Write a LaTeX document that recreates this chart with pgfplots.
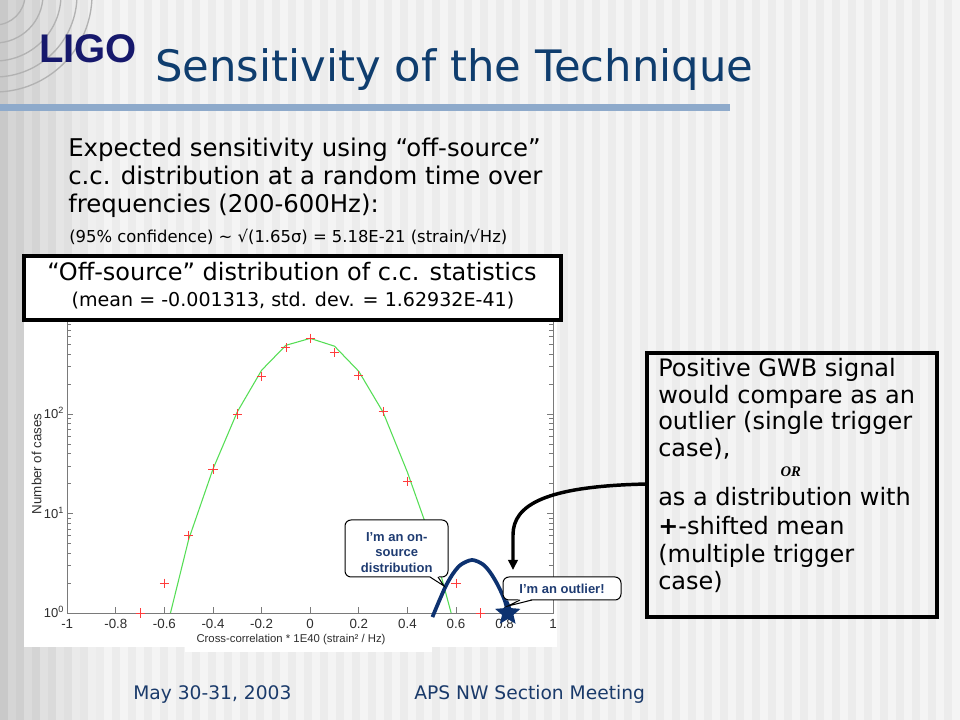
\documentclass[border=0pt]{standalone}
\usepackage{pgfplots}
\pgfplotsset{compat=1.18}
\usepackage{fontspec}
\setmainfont{DejaVu Sans}
\newfontfamily\arialf{Liberation Sans}
\newfontfamily\serf{Liberation Serif}
\usetikzlibrary{arrows.meta}

\definecolor{navytitle}{HTML}{0F3D6E}
\definecolor{ligoblue}{HTML}{16186C}
\definecolor{barblue}{HTML}{8EAACB}
\definecolor{axgray}{HTML}{7A7A7A}
\definecolor{ticktext}{HTML}{2E2E2E}
\definecolor{fitgreen}{RGB}{85,222,85}
\definecolor{ptred}{RGB}{255,60,60}
\definecolor{arcnavy}{HTML}{0D3270}
\definecolor{callblue}{HTML}{1F3C72}
\definecolor{footblue}{HTML}{1A3A6A}

% filled five-pointed star
\pgfdeclareplotmark{fstar}{%
  \pgfpathmoveto{\pgfpointpolar{90}{\pgfplotmarksize}}%
  \pgfpathlineto{\pgfpointpolar{126}{0.45*\pgfplotmarksize}}%
  \pgfpathlineto{\pgfpointpolar{162}{\pgfplotmarksize}}%
  \pgfpathlineto{\pgfpointpolar{198}{0.45*\pgfplotmarksize}}%
  \pgfpathlineto{\pgfpointpolar{234}{\pgfplotmarksize}}%
  \pgfpathlineto{\pgfpointpolar{270}{0.45*\pgfplotmarksize}}%
  \pgfpathlineto{\pgfpointpolar{306}{\pgfplotmarksize}}%
  \pgfpathlineto{\pgfpointpolar{342}{0.45*\pgfplotmarksize}}%
  \pgfpathlineto{\pgfpointpolar{18}{\pgfplotmarksize}}%
  \pgfpathlineto{\pgfpointpolar{54}{0.45*\pgfplotmarksize}}%
  \pgfpathclose\pgfusepathqfill}

\begin{document}
\begin{tikzpicture}
\useasboundingbox (0,0) rectangle (720pt,540pt);

% slide background, pixel coordinates (y down)
\begin{scope}[x=0.75pt,y=-0.75pt,shift={(0pt,540pt)}]
  \foreach \k in {0,...,59}{
    \pgfmathsetmacro\dk{7.5+max(0,6-\k)*2.3}
    \pgfmathsetmacro\lk{4.3+max(0,6-\k)*2.0}
    \fill[black!\dk] (16*\k,0) rectangle (16*\k+8,720);
    \fill[black!\lk] (16*\k+8,0) rectangle (16*\k+16,720);
  }
  \foreach \r in {30,48,66,82,97}{
    \draw[black!30, line width=1pt] (-5,-5) ++(0:\r) arc[start angle=0, end angle=90, radius=\r];
  }
  \node[anchor=base west, inner sep=0pt, text=ligoblue, font=\arialf\bfseries\fontsize{30}{32}\selectfont] at (39,63) {LIGO};
  \node[anchor=base west, inner sep=0pt, text=navytitle, font=\fontsize{32.5}{36}\selectfont] at (155,82) {Sensitivity of the Technique};
  \fill[barblue] (0,104) rectangle (730,111);

  \begin{scope}[every node/.style={anchor=base west, inner sep=0pt, font=\fontsize{18.3}{20}\selectfont}]
    \node at (68,157) {Expected sensitivity using “off-source”};
    \node at (68,185) {c.c. distribution at a random time over};
    \node at (68,213) {frequencies (200-600Hz):};
    \node[font=\fontsize{12.3}{14}\selectfont] at (69,243) {(95\% confidence) ∼ √(1.65σ) = 5.18E-21 (strain/√Hz)};
  \end{scope}

  \fill[white] (24,322) rectangle (557,647);
  \fill[white] (185,640) rectangle (432,652);

  \node[anchor=base west, inner sep=0pt, text=footblue, font=\fontsize{14}{16}\selectfont] at (133,700) {May 30-31, 2003};
  \node[anchor=base west, inner sep=0pt, text=footblue, font=\fontsize{14}{16}\selectfont] at (414,700) {APS NW Section Meeting};
\end{scope}

\begin{axis}[
  at={(50.4pt,80.25pt)}, anchor=south west,
  scale only axis, width=364.5pt, height=223.9pt,
  xmin=-1, xmax=1, ymin=1, ymax=1000, ymode=log,
  clip=false,
  axis line style={axgray, line width=0.6pt},
  tick style={axgray, line width=0.5pt},
  major tick length=4.5pt, minor tick length=3pt,
  xtick={-1,-0.8,-0.6,-0.4,-0.2,0,0.2,0.4,0.6,0.8,1},
  xticklabels={-1,-0.8,-0.6,-0.4,-0.2,0,0.2,0.4,0.6,0.8,1},
  ytick={1,10,100},
  yticklabels={10\textsuperscript{0},10\textsuperscript{1},10\textsuperscript{2}},
  minor ytick={2,3,4,5,6,7,8,9,20,30,40,50,60,70,80,90,200,300,400,500,600,700,800,900},
  ticklabel style={font=\arialf\fontsize{10}{12}\selectfont, text=ticktext},
  xticklabel style={anchor=center, yshift=-8.5pt},
  yticklabel style={anchor=base east, inner sep=0pt, xshift=-2.2pt, yshift=-3.5pt, font=\arialf\fontsize{9.75}{12}\selectfont},
  xlabel={Cross-correlation * 1E40 (strain² / Hz)},
  xlabel style={at={(axis description cs:0.4605,0)}, anchor=center, yshift=-19.9pt, font=\arialf\fontsize{8.5}{10}\selectfont, text=ticktext},
  ylabel={Number of cases},
  ylabel style={at={(axis description cs:0,0.5)}, anchor=center, yshift=23pt, font=\arialf\fontsize{10}{12}\selectfont, text=ticktext},
]
% gaussian fit (green polyline)
\addplot[fitgreen, line width=0.8pt] coordinates {
  (-0.575,1) (-0.5,5.5) (-0.4,28) (-0.3,105) (-0.2,275) (-0.1,490)
  (0,575) (0.1,480) (0.2,268) (0.3,104) (0.4,26) (0.5,5.3) (0.58,1)
};
% off-source histogram
\addplot[only marks, mark=+, mark size=3.4pt, mark options={ptred, line width=0.6pt}] coordinates {
  (-0.7,1) (-0.6,2) (-0.5,6) (-0.4,28) (-0.3,100) (-0.2,237) (-0.1,464)
  (0,577) (0.1,413) (0.2,243) (0.3,106) (0.4,21) (0.6,2) (0.7,1)
};
% on-source distribution sketch
\addplot[arcnavy, line width=2.8pt, smooth] coordinates {
  (0.503,0.91) (0.53,1.31) (0.56,1.91) (0.59,2.53) (0.62,3.06) (0.666,3.41)
  (0.71,3.09) (0.74,2.57) (0.77,1.95) (0.80,1.35) (0.818,0.91)
};
% outlier
\addplot[only marks, mark=fstar, mark size=10pt, arcnavy] coordinates {(0.813,1)};
\end{axis}

\begin{scope}[x=0.75pt,y=-0.75pt,shift={(0pt,540pt)}]
  % title box over the plot
  \draw[line width=2.5pt, fill=white] (24,256) rectangle (561,320);
  \node[anchor=base, inner sep=0pt, font=\fontsize{18}{20}\selectfont] at (292,281) {“Off-source” distribution of c.c. statistics};
  \node[anchor=base, inner sep=0pt, font=\fontsize{14.3}{16}\selectfont] at (293,307) {(mean = -0.001313, std. dev. = 1.62932E-41)};

  % right text box
  \draw[line width=2.4pt] (647,353) rectangle (937,617);
  \begin{scope}[every node/.style={anchor=base west, inner sep=0pt, font=\fontsize{18}{20}\selectfont}]
    \node at (658,376.7) {Positive GWB signal};
    \node at (658,403.3) {would compare as an};
    \node at (658,430) {outlier (single trigger};
    \node at (658,456.7) {case),};
    \node[anchor=base, font=\serf\bfseries\itshape\fontsize{11}{12}\selectfont] at (790.8,476.7) {OR};
    \node at (658,505.7) {as a distribution with};
    \node at (658,534.3) {{\bfseries +}-shifted mean};
    \node at (658,562.7) {(multiple trigger};
    \node at (658,590) {case)};
  \end{scope}

  % curved arrow
  \draw[line width=2.6pt, -{Triangle[length=7.5pt,width=7pt]}] (648,484) .. controls (545,486) and (513,505) .. (513,535) -- (513,570);

  % call-outs
  \draw[line width=0.75pt, fill=white, rounded corners=4.5pt] (345,520) rectangle (448,577);
  \fill[white] (429.5,576) -- (444,586) -- (438.5,576) -- cycle;
  \draw[line width=0.75pt] (430,577) -- (444,586) -- (438,577);
  \node[align=center, text=callblue, font=\arialf\bfseries\fontsize{9.75}{11.8}\selectfont] at (396.7,552.5) {I’m an on-\\source\\distribution};

  \draw[line width=0.75pt, fill=white, rounded corners=4.5pt] (503,577) rectangle (621,600);
  \fill[white] (519.5,599) -- (508,606) -- (532.5,599) -- cycle;
  \draw[line width=0.75pt] (520,600) -- (508,606) -- (532,600);
  \node[text=callblue, font=\arialf\bfseries\fontsize{9.75}{11.8}\selectfont] at (562,588.5) {I’m an outlier!};
\end{scope}
\end{tikzpicture}
\end{document}
